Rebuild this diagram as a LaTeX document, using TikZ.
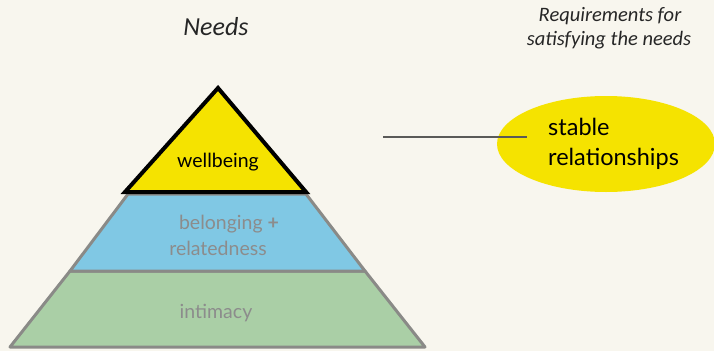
\documentclass[tikz,border=0pt]{standalone}
\usepackage{fontspec}
\setmainfont{Lato}
\newfontfamily\headfont{Carlito}
\usetikzlibrary{shapes.geometric}
\definecolor{bgc}{HTML}{F8F6EE}
\definecolor{pyrYellow}{HTML}{F5E300}
\definecolor{pyrBlue}{HTML}{80C8E4}
\definecolor{pyrGreen}{HTML}{AACFA6}
\definecolor{edgeGrey}{HTML}{8A8A87}
\definecolor{labelGrey}{HTML}{8C8C8C}
\definecolor{lineGrey}{HTML}{5A5A58}
\tikzset{
  layer/.style={draw=edgeGrey, line width=3pt, line join=round},
  toplayer/.style={draw=black, line width=4pt, line join=miter, fill=pyrYellow},
  pyrlabel/.style={font=\fontsize{19.5}{24}\selectfont, inner sep=0pt, anchor=base},
  greylabel/.style={pyrlabel, text=labelGrey},
  headlabel/.style={text=black!85, inner sep=0pt, anchor=base},
  reqtext/.style={font=\fontsize{23.5}{29}\selectfont, inner sep=0pt, anchor=base west},
}
\begin{document}
\begin{tikzpicture}[x=1pt,y=-1pt]
\fill[bgc] (0,0) rectangle (714,351);
\useasboundingbox (0,0) rectangle (714,351);
% pyramid layers
\filldraw[layer, fill=pyrGreen] (70,271) -- (365,271) -- (425,347) -- (10,347) -- cycle;
\filldraw[layer, fill=pyrBlue] (128,194) -- (306,194) -- (365,271) -- (70,271) -- cycle;
\filldraw[toplayer] (218,88) -- (306,192) -- (125,192) -- cycle;
% labels
\node[pyrlabel] (wellbeing) at (218,167) {wellbeing};
\node[greylabel] (belonging) at (229,229) {belonging \textbf{+}};
\node[greylabel] (relatedness) at (218,255) {relatedness};
\node[greylabel] (intimacy) at (216,318) {intimacy};
% headings
\node[headlabel, font=\headfont\itshape\fontsize{26}{30}\selectfont] (needs) at (216,35) {Needs};
\node[headlabel, font=\headfont\itshape\fontsize{20.5}{24}\selectfont] (req1) at (610,21) {Requirements for};
\node[headlabel, font=\headfont\itshape\fontsize{20.5}{24}\selectfont] (req2) at (609,45) {satisfying the needs};
% requirement ellipse
\node[ellipse, fill=pyrYellow, minimum width=218pt, minimum height=96pt, inner sep=0pt] (stable) at (606,144) {};
\node[reqtext] (stabletext) at (548,135) {stable};
\node[reqtext] (relationshipstext) at (548,165) {relationships};
% connector
\coordinate (lineStart) at (383,137);
\coordinate (lineEnd) at (527,137);
\draw[lineGrey, line width=2.5pt] (lineStart) -- (lineEnd);
\end{tikzpicture}
\end{document}
